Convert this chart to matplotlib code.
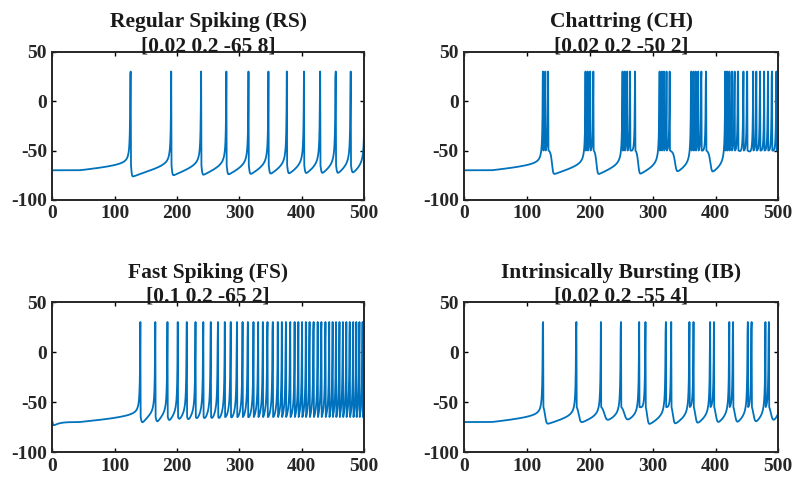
import numpy as np
import matplotlib
matplotlib.use('Agg')
import matplotlib.pyplot as plt

plt.rcParams['axes.unicode_minus'] = False

# Izhikevich neuron, four firing types, ramp input current
titles = ['Regular Spiking (RS)', 'Chattring (CH)',
          'Fast Spiking (FS)', 'Intrinsically Bursting (IB)']
params = [[0.02, 0.2, -65, 8],
          [0.02, 0.2, -50, 2],
          [0.1, 0.2, -65, 2],
          [0.02, 0.2, -55, 4]]
v_start = [-70, -70, -70, -70]
u_start = [-14, -14, -11, -14]
ramp_slope = 0.045  # input current I = ramp_slope * (t - ramp_start)
ramp_start = 42
t_end = 500
dt = 0.5

xticks = [0, 100, 200, 300, 400, 500]
yticks = [-100, -50, 0, 50]


def izhikevich(a, b, c, d, v0, u0):
    t = np.arange(0, t_end + dt, dt)
    v_out = np.zeros_like(t)
    v, u = v0, u0
    for i, ti in enumerate(t):
        if v >= 30:
            v_out[i] = 30
            v = c
            u = u + d
            continue
        v_out[i] = v
        I = ramp_slope * max(ti - ramp_start, 0)
        v = v + dt * (0.04 * v * v + 5 * v + 140 - u + I)
        u = u + dt * a * (b * v - u)
        if v >= 30:
            v = 30
    return t, v_out


fig = plt.figure(figsize=(7.95, 4.84), dpi=100)
positions = [[0.066, 0.587, 0.392, 0.306],
             [0.584, 0.587, 0.395, 0.306],
             [0.066, 0.066, 0.392, 0.310],
             [0.584, 0.066, 0.395, 0.310]]

font = 'Liberation Serif'

for k in range(4):
    ax = fig.add_axes(positions[k])
    a, b, c, d = params[k]
    t, v = izhikevich(a, b, c, d, v_start[k], u_start[k])
    ax.plot(t, v, color='#0072BD', lw=1.3)
    ax.set_xlim(0, 500)
    ax.set_ylim(-100, 50)
    ax.set_xticks(xticks)
    ax.set_yticks(yticks)
    ax.tick_params(direction='in', length=3, width=1, top=True, right=True,
                   labelsize=14, pad=4)
    for lab in ax.get_xticklabels() + ax.get_yticklabels():
        lab.set_fontfamily(font)
        lab.set_fontweight('bold')
        lab.set_color('#262626')
    for sp in ax.spines.values():
        sp.set_linewidth(1.4)
        sp.set_color('#262626')
    label = '%s\n[%g %g %g %g]' % (titles[k], a, b, c, d)
    ax.set_title(label, fontfamily=font, fontweight='bold', fontsize=15.5,
                 pad=0.5, linespacing=1.25, color='#1a1a1a')

fig.savefig('out.png', dpi=100)
